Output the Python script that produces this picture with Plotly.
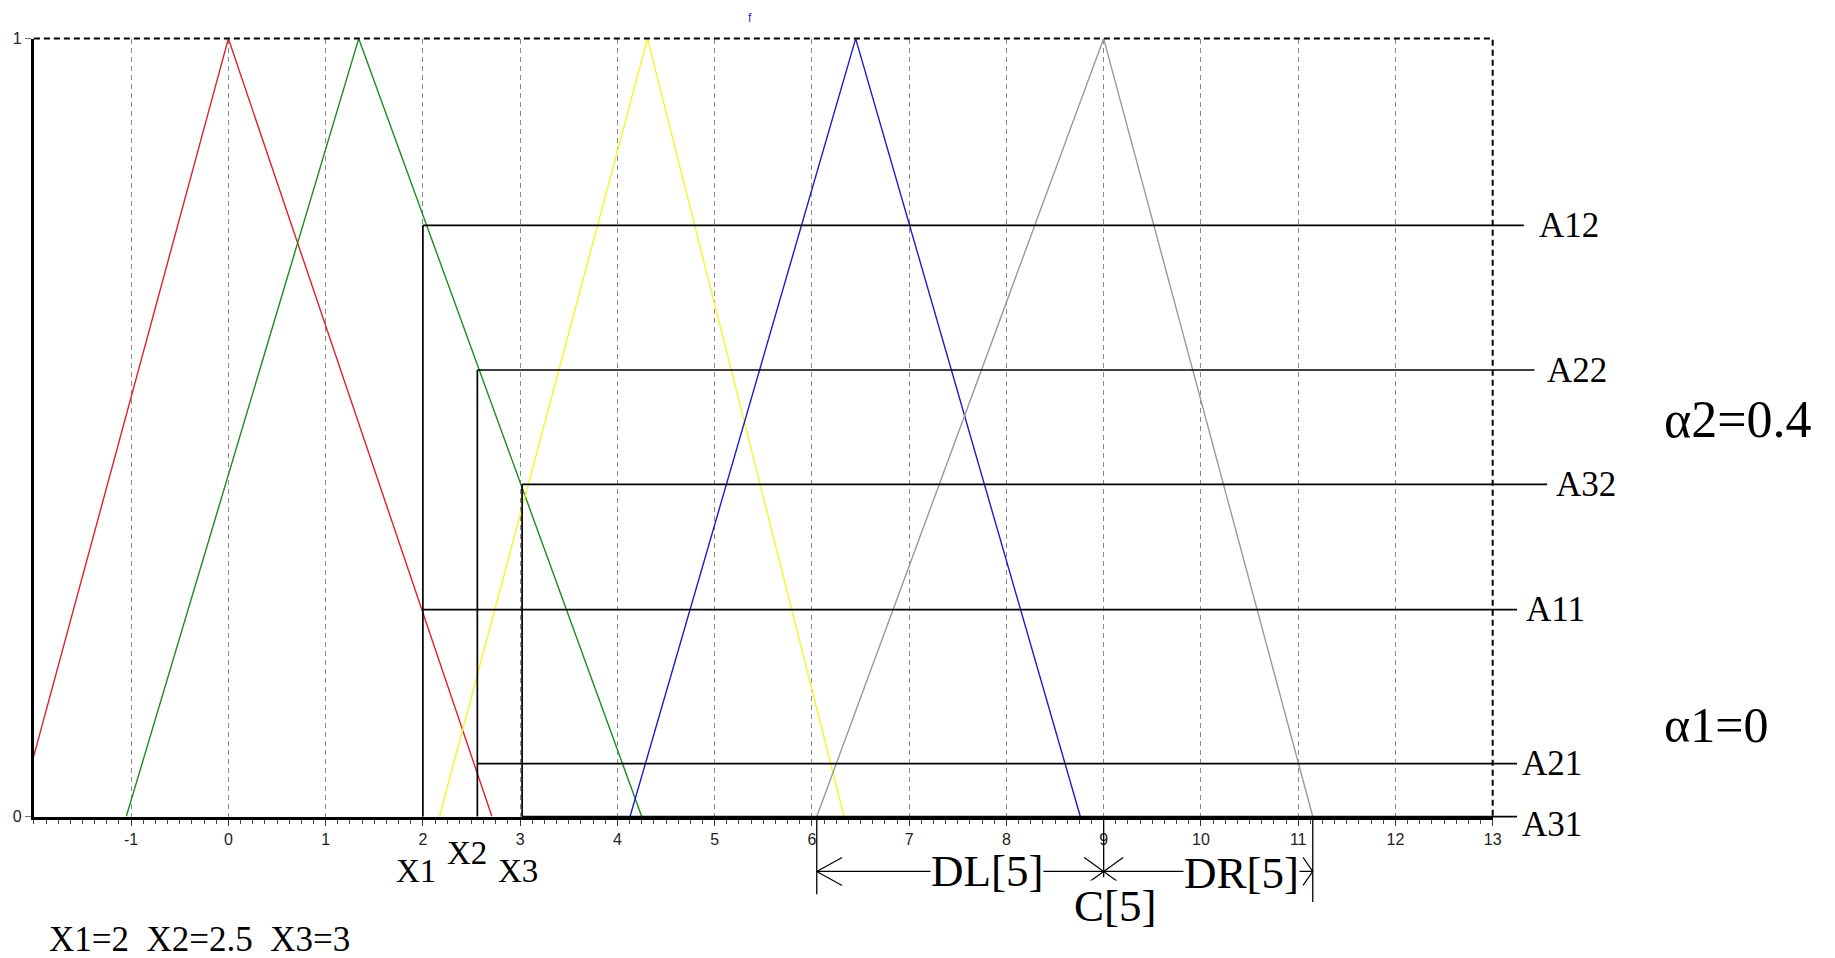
import plotly.graph_objects as go

# ---------------- data ----------------
# triangular membership functions: (left foot, peak, right foot)
tri_names = ["red", "green", "yellow", "blue", "gray"]
tri_left = [-2.17, -1.05, 2.17, 4.13, 6.05]
tri_peak = [0.0, 1.34, 4.31, 6.45, 9.0]
tri_right = [2.71, 4.25, 6.33, 8.76, 11.15]
tri_colors = ["#e0202a", "#1f8a1f", "#f5f52a", "#1c1cc8", "#9a9a9a"]

# input points
x_names = ["X1", "X2", "X3"]
x_vals = [2.0, 2.56, 3.02]
x_tops = [0.76, 0.574, 0.427]          # height of each vertical marker line

# alpha-cut level lines
a_names = ["A12", "A22", "A32", "A11", "A21", "A31"]
a_levels = [0.76, 0.574, 0.427, 0.266, 0.068, 0.0]
a_start = [2.0, 2.56, 3.02, 2.0, 2.56, 3.02]
a_end = [13.32, 13.43, 13.56, 13.25, 13.25, 13.25]
a_label_x = [13.46, 13.54, 13.63, 13.32, 13.28, 13.28]
a_label_y = [0.76, 0.574, 0.427, 0.266, 0.068, -0.010]

# dimension (DL / C / DR) markers of set 5
dim_x = [6.05, 9.0, 11.15]
dim_bottom = [-0.10, -0.078, -0.11]
dim_line_y = -0.0706

# axis ticks
x_ticks = list(range(-1, 14))
x_ticklabels = [str(v) for v in x_ticks]
y_ticks = [0, 1]
y_ticklabels = ["0", "1"]

# ---------------- geometry of the canvas ----------------
W, H = 1835, 958
PX_L, PX_R, PX_T, PX_B = 26, 1492, 23, 815
XMIN, XMAX, YMIN, YMAX = -2, 13, 0, 1
ux = (PX_R - PX_L) / (XMAX - XMIN)
uy = (PX_B - PX_T) / (YMAX - YMIN)
X2_RANGE = [XMIN - PX_L / ux, XMAX + (W - PX_R) / ux]
Y2_RANGE = [YMIN - (H - PX_B) / uy, YMAX + PX_T / uy]

SERIF = "Liberation Serif, Times New Roman, serif"
SANS = "Liberation Sans, Arial, sans-serif"

fig = go.Figure()

# triangles (clipped by main axes)
for n, l, p, r, c in zip(tri_names, tri_left, tri_peak, tri_right, tri_colors):
    fig.add_trace(go.Scatter(x=[l, p, r], y=[0, 1, 0], mode="lines",
                             line=dict(color=c, width=1.4), name=n,
                             showlegend=False, hoverinfo="skip"))

# overlay layer (full canvas, same scale) -----------------
def seg_trace(xs, ys, width=1.6, color="black", dash=None):
    return go.Scatter(x=xs, y=ys, mode="lines", xaxis="x2", yaxis="y2",
                      line=dict(color=color, width=width, dash=dash),
                      showlegend=False, hoverinfo="skip")

# frame: top and right dashed borders
fig.add_trace(seg_trace([XMIN, XMAX, XMAX], [YMAX, YMAX, YMIN], width=2,
                        dash="6px,4px"))

# vertical X markers
vx, vy = [], []
for xv, top in zip(x_vals, x_tops):
    vx += [xv, xv, None]
    vy += [0, top, None]
fig.add_trace(seg_trace(vx, vy, width=1.7))

# alpha-cut lines
hx, hy = [], []
for s, e, lv in zip(a_start, a_end, a_levels):
    hx += [s, e, None]
    hy += [lv, lv, None]
fig.add_trace(seg_trace(hx, hy, width=1.7))

# dimension lines below the axis
dx, dy = [], []
for xv, yb in zip(dim_x, dim_bottom):
    dx += [xv, xv, None]
    dy += [0, yb, None]
dx += [dim_x[0], dim_x[2], None]
dy += [dim_line_y, dim_line_y, None]
fig.add_trace(seg_trace(dx, dy, width=1.3))

# open arrow heads
AH = 0.018
heads = [(dim_x[0], 1, 0.26), (dim_x[1], -1, 0.2), (dim_x[1], 1, 0.2),
         (dim_x[2], -1, 0.1)]
cx, cy = [], []
for xv, direction, aw in heads:
    cx += [xv + direction * aw, xv, xv + direction * aw, None]
    cy += [dim_line_y + AH, dim_line_y, dim_line_y - AH, None]
fig.add_trace(seg_trace(cx, cy, width=1.2))

# ---------------- annotations ----------------
ann = []
ann.append(dict(x=5.36, y=1.026, xref="x2", yref="y2", text="f",
                showarrow=False, xanchor="center", yanchor="middle",
                font=dict(family=SANS, size=12, color="#2a2ad0")))

for name, lx, ly in zip(a_names, a_label_x, a_label_y):
    ann.append(dict(x=lx, y=ly, xref="x2", yref="y2", text=name,
                    showarrow=False, xanchor="left", yanchor="middle",
                    font=dict(family=SERIF, size=35, color="black")))

ann.append(dict(x=14.74, y=0.51, xref="x2", yref="y2", text="α2=0.4",
                showarrow=False, xanchor="left", yanchor="middle",
                font=dict(family=SERIF, size=52, color="black")))
ann.append(dict(x=14.74, y=0.118, xref="x2", yref="y2", text="α1=0",
                showarrow=False, xanchor="left", yanchor="middle",
                font=dict(family=SERIF, size=50, color="black")))

x_label_pos = [(1.93, -0.0706), (2.45, -0.0475), (2.98, -0.0706)]
for name, (lx, ly) in zip(x_names, x_label_pos):
    ann.append(dict(x=lx, y=ly, xref="x2", yref="y2", text=name,
                    showarrow=False, xanchor="center", yanchor="middle",
                    font=dict(family=SERIF, size=33, color="black")))

ann.append(dict(x=-1.86, y=-0.158, xref="x2", yref="y2",
                text="X1=2&nbsp;&nbsp;X2=2.5&nbsp;&nbsp;X3=3",
                showarrow=False, xanchor="left", yanchor="middle",
                font=dict(family=SERIF, size=35, color="black")))

dim_texts = [("DL[5]", 7.80, -0.0706), ("DR[5]", 10.42, -0.072),
             ("C[5]", 9.12, -0.1155)]
for t, lx, ly in dim_texts:
    ann.append(dict(x=lx, y=ly, xref="x2", yref="y2", text=t,
                    showarrow=False, xanchor="center", yanchor="middle",
                    bgcolor="white", borderpad=0,
                    font=dict(family=SERIF, size=45, color="black")))

fig.update_layout(
    width=W, height=H,
    margin=dict(l=0, r=0, t=0, b=0),
    paper_bgcolor="white", plot_bgcolor="rgba(0,0,0,0)",
    showlegend=False,
    xaxis=dict(domain=[PX_L / W, PX_R / W], range=[XMIN, XMAX],
               tickmode="array", tickvals=x_ticks, ticktext=x_ticklabels,
               tickfont=dict(family=SANS, size=16, color="#222222"),
               ticks="outside", ticklen=6, tickcolor="#333333",
               showgrid=True, gridcolor="#8a8a8a", griddash="5px,4px",
               gridwidth=1, zeroline=False,
               showline=True, linecolor="black", linewidth=3,
               minor=dict(dtick=0.125, ticks="outside", ticklen=4,
                          tickcolor="#444444", showgrid=False),
               fixedrange=True),
    yaxis=dict(domain=[(H - PX_B) / H, (H - PX_T) / H], range=[YMIN, YMAX],
               tickmode="array", tickvals=y_ticks, ticktext=y_ticklabels,
               tickfont=dict(family=SANS, size=16, color="#222222"),
               ticks="outside", ticklen=6, tickcolor="#777777",
               showgrid=False, zeroline=False,
               showline=True, linecolor="black", linewidth=3,
               fixedrange=True),
    xaxis2=dict(domain=[0, 1], range=X2_RANGE, anchor="y2", visible=False,
                fixedrange=True),
    yaxis2=dict(domain=[0, 1], range=Y2_RANGE, anchor="x2", visible=False,
                fixedrange=True),
    annotations=ann,
)

fig.write_html("out.html")
